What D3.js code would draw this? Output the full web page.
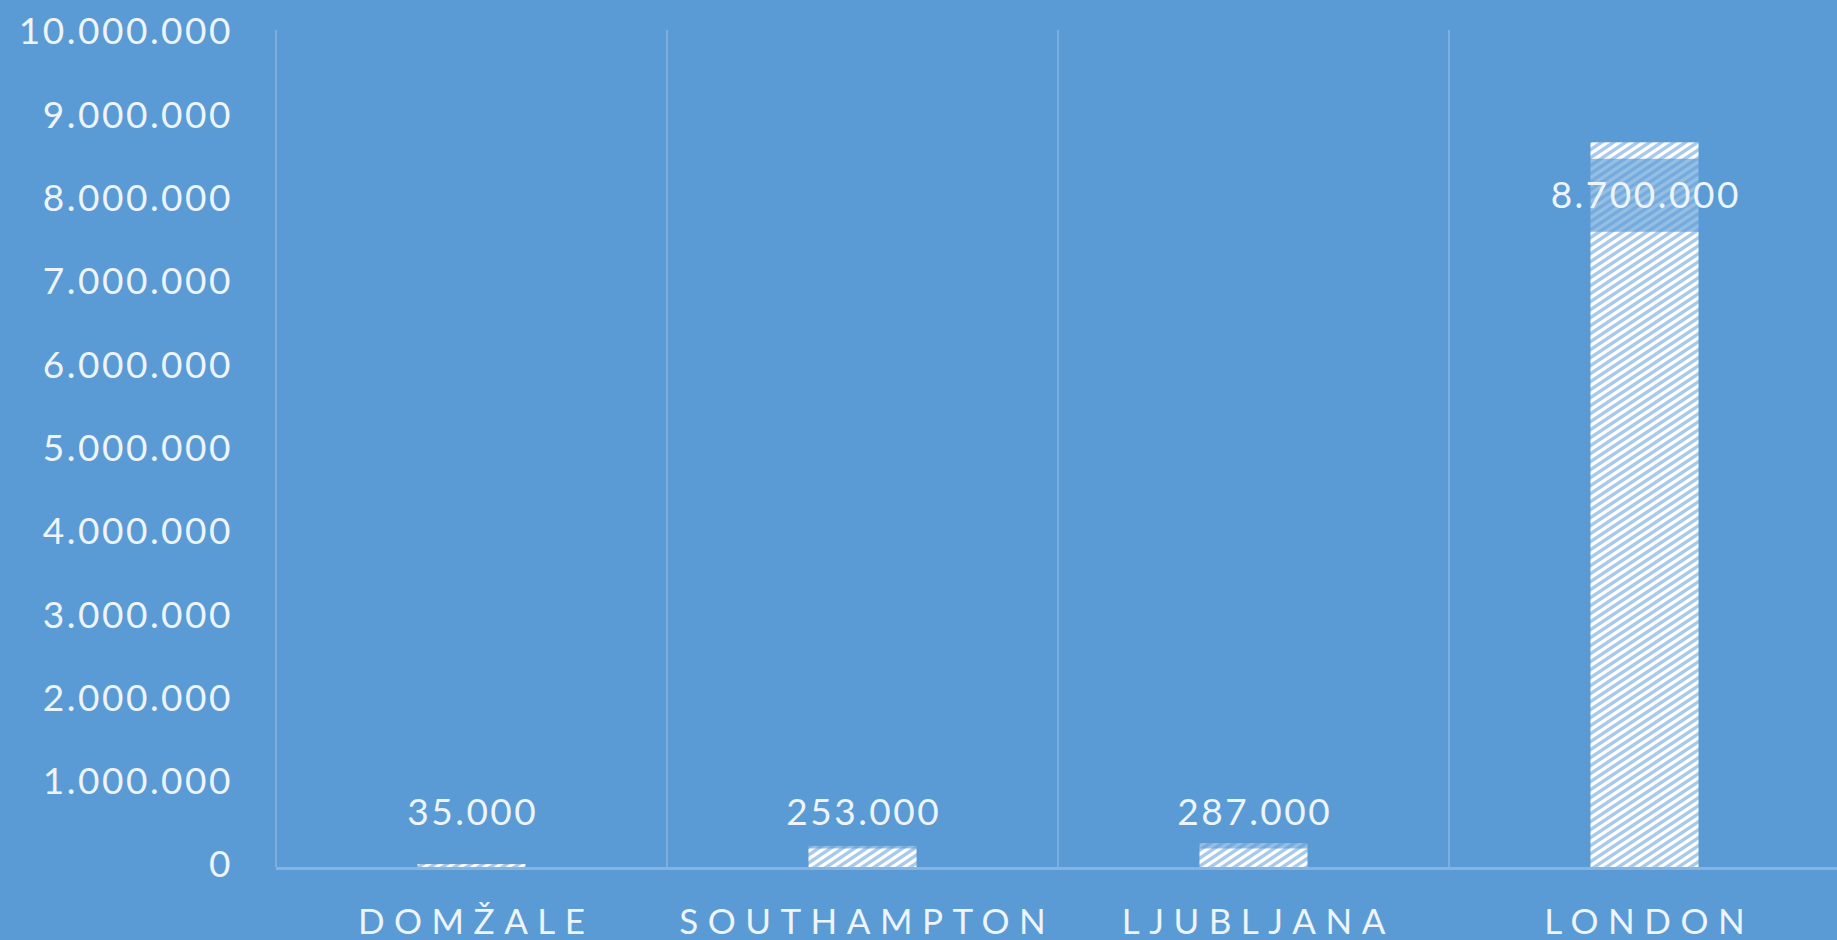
<!DOCTYPE html>
<html>
<head>
<meta charset="utf-8">
<script src="https://cdn.jsdelivr.net/npm/d3@7"></script>
<style>
  body { margin: 0; background: #5b9bd5; }
  svg { display: block; }
</style>
</head>
<body>
<svg id="chart" width="1837" height="940"></svg>
<script>
// Cities and population
const cities = ["DOMŽALE", "SOUTHAMPTON", "LJUBLJANA", "LONDON"];
const population = [35000, 253000, 287000, 8700000];
const yMax = 10000000;

const bg = "#5b9bd5";
const textColor = "#eef4fb";

// Numbers use dots for thousands (Slovene style)
const locale = d3.formatLocale({ decimal: ",", thousands: ".", grouping: [3], currency: ["", ""] });
const fmt = locale.format(",.0f");

const svg = d3.select("#chart");

// Plot area
const plotLeft = 276, plotTop = 34, plotBottom = 867;

var xScale = d3.scaleBand().domain(cities).range([plotLeft, plotLeft + 4 * 391]).padding(0);
var yScale = d3.scaleLinear().domain([0, yMax]).range([plotBottom, plotTop]);

// Hatch pattern for the bars (white with light blue upward diagonals)
const defs = svg.append("defs");
const pat = defs.append("pattern")
  .attr("id", "hatch")
  .attr("patternUnits", "userSpaceOnUse")
  .attr("width", 12)
  .attr("height", 8);
pat.append("rect").attr("width", 12).attr("height", 8).attr("fill", "#ffffff");
pat.append("polygon").attr("points", "0,0 6,0 0,4").attr("fill", "#a6c9ec");
pat.append("polygon").attr("points", "0,8 12,0 12,4 6,8").attr("fill", "#a6c9ec");

// Vertical gridlines at the left edge of each category
svg.append("g")
  .selectAll("line")
  .data(cities)
  .enter()
  .append("line")
  .attr("x1", (d) => xScale(d))
  .attr("x2", (d) => xScale(d))
  .attr("y1", plotTop - 4)
  .attr("y2", plotBottom)
  .attr("stroke", "rgba(255,255,255,0.2)")
  .attr("stroke-width", 2);

// Y axis labels
const yAxis = svg.append("g")
  .attr("transform", `translate(${plotLeft},0)`)
  .call(d3.axisLeft(yScale).ticks(10).tickSize(0).tickPadding(43).tickFormat(fmt));
yAxis.select(".domain").remove();
yAxis.selectAll("text")
  .attr("dy", "0.35em")
  .attr("y", -3)
  .style("font-family", "Lato")
  .style("font-size", "37px")
  .style("letter-spacing", "2.5px")
  .style("fill", textColor);

// Bars
const barW = 108;
svg.append("g")
  .selectAll("rect")
  .data(population)
  .enter()
  .append("rect")
  .attr("x", (d, i) => xScale(cities[i]) + xScale.bandwidth() / 2 - barW / 2)
  .attr("y", (d) => yScale(d))
  .attr("width", barW)
  .attr("height", (d) => plotBottom - yScale(d))
  .attr("fill", "url(#hatch)");

// Baseline
svg.append("line")
  .attr("x1", plotLeft)
  .attr("x2", 1837)
  .attr("y1", plotBottom + 1.5)
  .attr("y2", plotBottom + 1.5)
  .attr("stroke", "rgba(255,255,255,0.25)")
  .attr("stroke-width", 3);

// Value labels, inside the top of the bar but kept above the baseline
const labelY = (d) => Math.min(yScale(d) + 53, plotBottom - 55);
const labels = svg.append("g")
  .selectAll("g")
  .data(population)
  .enter()
  .append("g")
  .attr("transform", (d, i) => `translate(${xScale(cities[i]) + xScale.bandwidth() / 2},${labelY(d)})`);

labels.append("rect")
  .attr("x", -105)
  .attr("y", -36.5)
  .attr("width", 210)
  .attr("height", 73)
  .attr("fill", bg)
  .attr("fill-opacity", 0.65);

labels.append("text")
  .attr("text-anchor", "middle")
  .attr("dy", "0.35em")
  .attr("dx", 1.25)
  .style("font-family", "Lato")
  .style("font-size", "37px")
  .style("letter-spacing", "2.5px")
  .style("fill", textColor)
  .text((d) => fmt(d));

// Category labels under the axis, widely spaced capitals
const spacing = 9.5;
svg.append("g")
  .selectAll("text")
  .data(cities)
  .enter()
  .append("text")
  .attr("x", (d) => xScale(d) + xScale.bandwidth() / 2 + spacing / 2)
  .attr("y", 934)
  .attr("text-anchor", "middle")
  .style("font-family", "Lato")
  .style("font-size", "35px")
  .style("letter-spacing", spacing + "px")
  .style("fill", textColor)
  .text((d) => d);
</script>
</body>
</html>
